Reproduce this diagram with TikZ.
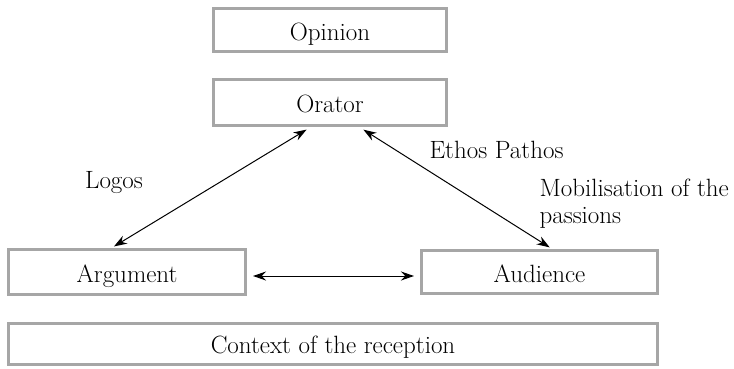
\documentclass[tikz,border=0pt]{standalone}
\usetikzlibrary{arrows.meta}

\begin{document}
\begin{tikzpicture}[
            x = 1pt, y = -1pt,
            every node/.style = {font = \fontsize{25}{27}\selectfont},
            box/.style = {draw = boxgray, line width = 3pt, inner sep = 0pt, text height = 20pt, text depth = 0pt},
            link/.style = {{Stealth[length = 13pt, width = 9pt]}-{Stealth[length = 13pt, width = 9pt]}, line width = 1pt}
            ]
            \definecolor{boxgray}{HTML}{A6A6A6}
            \useasboundingbox (0,0) rectangle (734,368);
            % boxes
            \node[box, minimum width = 233pt, minimum height = 43pt] (opinion) at (330,30) {Opinion};
            \node[box, minimum width = 233pt, minimum height = 46pt] (orator) at (330,102.5) {Orator};
            \node[box, minimum width = 237pt, minimum height = 45pt] (argument) at (127,272) {Argument};
            \node[box, minimum width = 236pt, minimum height = 43pt] (audience) at (539.5,272) {Audience};
            \node[box, minimum width = 649pt, minimum height = 41pt] (context) at (333,343.5) {Context of the reception};
            % links
            \draw[link, shorten < = 5pt, shorten > = 3pt] (orator.232) -- (argument.123);
            \draw[link, shorten < = 5pt, shorten > = 3pt] (orator.-40) -- (audience.61);
            \draw[link, shorten < = 6pt, shorten > = 6pt] ([yshift = -4pt]argument.east) -- ([yshift = -4pt]audience.west);
            % labels
            \node (logos) at (114,183) {Logos};
            \node[anchor = west] (ethos) at (426,150) {Ethos Pathos};
            \node[anchor = west, align = left] (passions) at (536,203.5) {Mobilisation of the\\passions};
          \end{tikzpicture}
\end{document}
